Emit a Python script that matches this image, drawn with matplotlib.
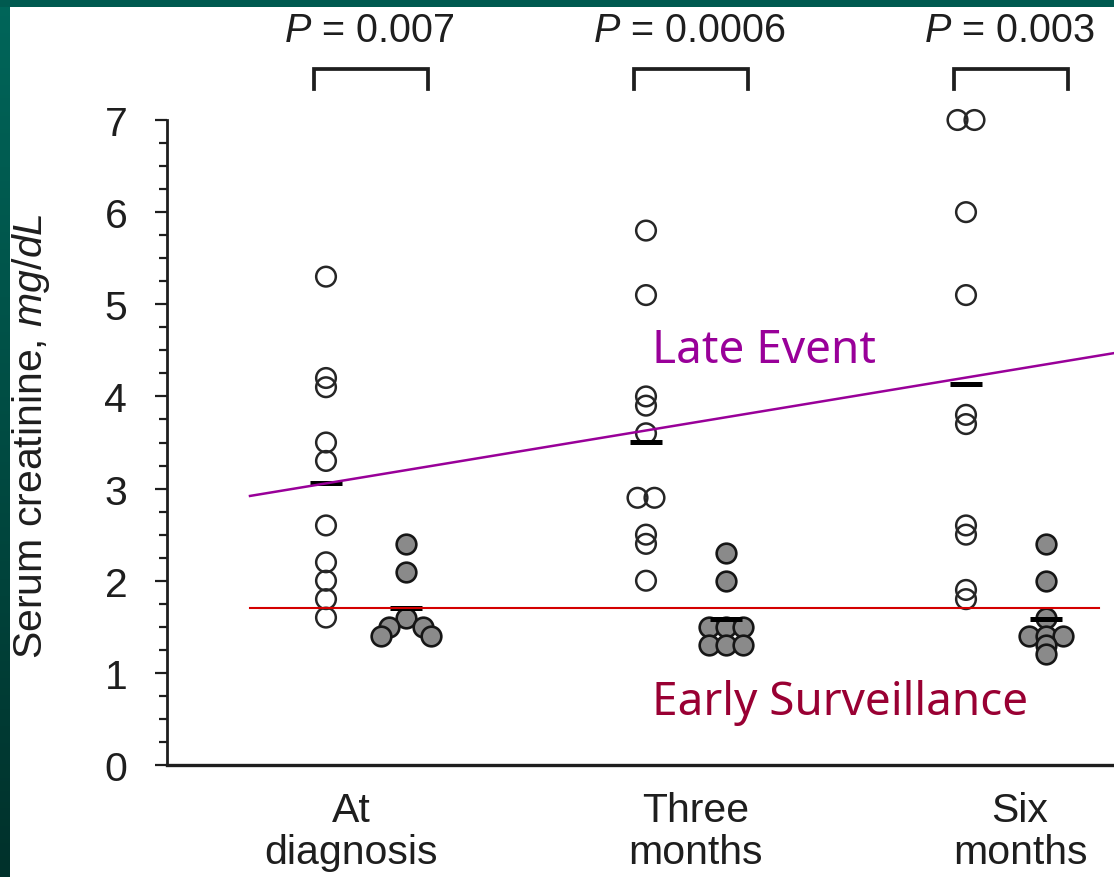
import numpy as np
import matplotlib
matplotlib.use("Agg")
import matplotlib.pyplot as plt
from matplotlib.ticker import MultipleLocator
from matplotlib.colors import LinearSegmentedColormap
from matplotlib.patches import Rectangle

plt.rcParams['font.family'] = ['Liberation Sans', 'DejaVu Sans']
plt.rcParams['mathtext.fontset'] = 'custom'
plt.rcParams['mathtext.rm'] = 'Liberation Sans'
plt.rcParams['mathtext.it'] = 'Liberation Sans:italic'

# ---------------- data ----------------
categories = ["At\ndiagnosis", "Three\nmonths", "Six\nmonths"]
p_values = ["0.007", "0.0006", "0.003"]

# open circles (late event group)
late_diag = [5.3, 4.2, 4.1, 3.5, 3.3, 2.6, 2.2, 2.0, 1.8, 1.6]
late_3m = [5.8, 5.1, 4.0, 3.9, 3.6, 2.9, 2.9, 2.5, 2.4, 2.0]
late_6m = [7.0, 7.0, 6.0, 5.1, 3.8, 3.7, 2.6, 2.5, 1.9, 1.8]

# filled circles (early surveillance group)
early_diag = [2.4, 2.1, 1.6, 1.5, 1.5, 1.4, 1.4]
early_3m = [2.3, 2.0, 1.5, 1.5, 1.5, 1.3, 1.3, 1.3]
early_6m = [2.4, 2.0, 1.6, 1.4, 1.4, 1.4, 1.3, 1.2]

yticks = [0, 1, 2, 3, 4, 5, 6, 7]

# annotation lines drawn over the chart (in axis units)
late_line_x = [-0.3625, 2.3375]
late_line_y = [2.92, 4.47]
early_line_x = [-0.3625, 2.29]
early_line_y = [1.70, 1.70]

late_groups = [late_diag, late_3m, late_6m]
early_groups = [early_diag, early_3m, early_6m]

# ---------------- layout ----------------
W, H = 1114, 878
fig = plt.figure(figsize=(W / 100, H / 100), dpi=100)
fig.patch.set_facecolor('white')

# slide border (teal)
bg = fig.add_axes([0, 0, 1, 1], zorder=-10)
cmap = LinearSegmentedColormap.from_list('teal', ['#00665a', '#00312b'])
bg.imshow(np.linspace(0, 1, 256).reshape(-1, 1), extent=[0, 10, H, 0],
          cmap=cmap, aspect='auto')
bg.add_patch(Rectangle((0, 0), W, 8, color='#005a50', lw=0))
bg.set_xlim(0, W)
bg.set_ylim(H, 0)
bg.axis('off')

ax_left, ax_right, ax_top, ax_bot = 167, 1114, 121, 766
ax = fig.add_axes([ax_left / W, (H - ax_bot) / H,
                   (ax_right - ax_left) / W, (ax_bot - ax_top) / H])
ax.set_facecolor('none')

group_px = 320.0
ax.set_xlim((ax_left - 366) / group_px, (ax_right - 366) / group_px)
ax.set_ylim(0, 7)

dx = 0.125           # offset of each series from group centre
step = 0.053         # swarm spacing
ms = 200             # marker area
text_col = '#1e1e1e'


def swarm_offsets(vals, step):
    vals = np.round(np.asarray(vals, float), 2)
    offs = np.zeros(len(vals))
    for u in sorted(set(vals), reverse=True):
        idx = np.where(np.isclose(vals, u))[0]
        n = len(idx)
        above = int(np.sum(np.isclose(vals, round(u + 0.1, 2))))
        s = step * (1 + above)
        offs[idx] = (np.arange(n) - (n - 1) / 2) * s
    return offs


xc = np.arange(len(categories))
for i in range(len(categories)):
    lv = np.asarray(late_groups[i])
    ev = np.asarray(early_groups[i])
    xo = xc[i] - dx
    xf = xc[i] + dx
    ax.scatter(xo + swarm_offsets(lv, step), lv, s=ms, facecolors='none',
               edgecolors='#262626', linewidths=1.8, zorder=3, clip_on=False)
    ax.scatter(xf + swarm_offsets(ev, step), ev, s=ms, facecolors='#8a8a8a',
               edgecolors='#161616', linewidths=1.9, zorder=3, clip_on=False)
    ax.hlines(lv.mean(), xo - 0.05, xo + 0.05, colors='black', lw=3.6, zorder=5)
    ax.hlines(ev.mean(), xf - 0.05, xf + 0.05, colors='black', lw=3.6, zorder=5)
    # significance bracket + p text
    bl, br, btop, bbot = xc[i] - 0.163, xc[i] + 0.193, 7.55, 7.34
    ax.plot([bl, bl, br, br], [bbot, btop, btop, bbot], color=text_col,
            lw=2.7, clip_on=False, solid_joinstyle='miter', zorder=4)
    ax.text(xc[i] + 0.01, 7.86, r"$\mathit{P}$ = " + p_values[i],
            ha='center', va='baseline', fontsize=28.5, color=text_col)

# annotation lines + labels
ax.plot(late_line_x, late_line_y, color='#990099', lw=1.8, zorder=6,
        clip_on=False)
ax.plot(early_line_x, early_line_y, color='#d40000', lw=1.5, zorder=6,
        clip_on=False)
ax.text(0.895, 4.374, "Late Event", color='#990099', fontsize=33,
        family='Noto Sans', ha='left', va='baseline')
ax.text(0.895, 0.553, "Early Surveillance", color='#990033', fontsize=33,
        family='Noto Sans', ha='left', va='baseline')

# axes styling
for s in ['top', 'right']:
    ax.spines[s].set_visible(False)
ax.spines['left'].set_linewidth(2.0)
ax.spines['bottom'].set_linewidth(2.4)
ax.spines['left'].set_color(text_col)
ax.spines['bottom'].set_color(text_col)

ax.set_yticks(yticks)
ax.yaxis.set_minor_locator(MultipleLocator(0.25))
ax.tick_params(axis='y', which='major', length=8.6, width=1.6, pad=20,
               labelsize=29.5, labelcolor=text_col, color=text_col)
ax.tick_params(axis='y', which='minor', length=6, width=1.6, color=text_col)

label_shift = [-0.047, 0.03, 0.044]
ax.set_xticks(xc + np.array(label_shift), categories)
ax.tick_params(axis='x', length=0, pad=19, labelsize=29.5, labelcolor=text_col)
for lbl in ax.get_xticklabels():
    lbl.set_linespacing(1.12)

ax.set_ylabel(r"Serum creatinine, $\mathit{mg/dL}$", fontsize=29.5,
              color=text_col, va='center')
ax.yaxis.set_label_coords((31 - ax_left) / (ax_right - ax_left),
                          (ax_bot - 436) / (ax_bot - ax_top))

fig.savefig('out.png', dpi=100)
